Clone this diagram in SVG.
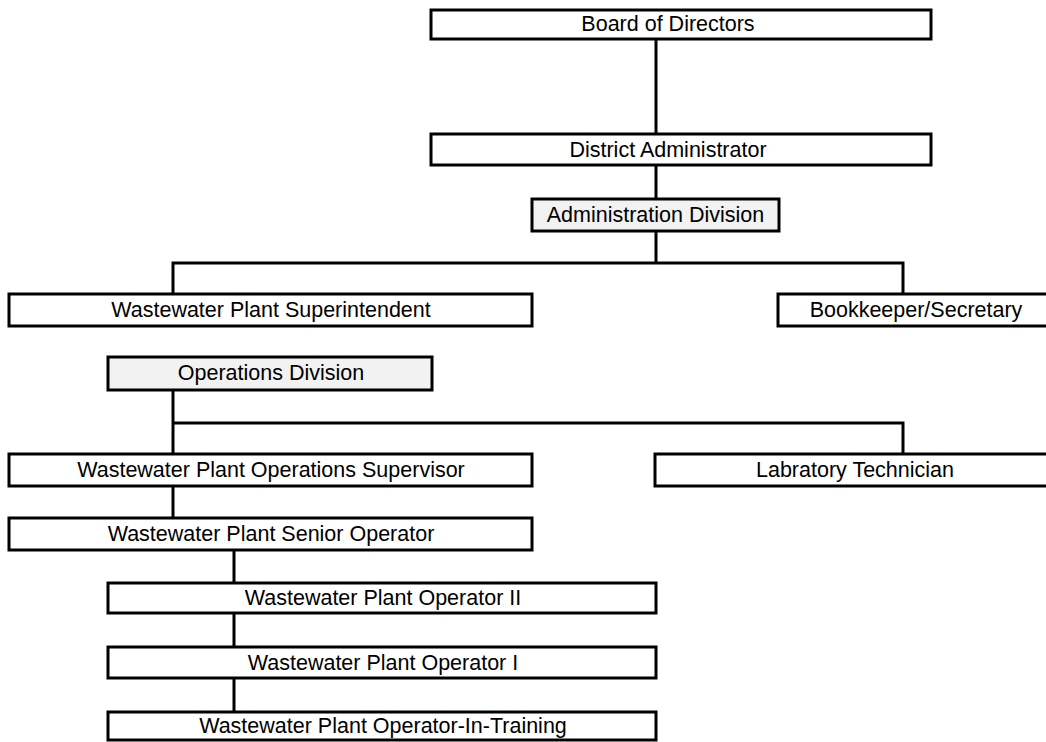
<svg xmlns="http://www.w3.org/2000/svg" width="1046" height="742" viewBox="0 0 1046 742">
<style>
.box{fill:#ffffff;stroke:#000000;stroke-width:3}
.div{fill:#f2f2f2;stroke:#000000;stroke-width:3}
.lbl{font-family:"Liberation Sans",Arial,sans-serif;font-size:21.5px;fill:#000000;text-anchor:middle}
.con{fill:none;stroke:#000000;stroke-width:3}
</style>
<rect width="1046" height="742" fill="#ffffff"/>
<g id="connectors">
<path class="con" d="M656 39V133"/>
<path class="con" d="M656 165V199"/>
<path class="con" d="M656 231V263"/>
<path class="con" d="M173 294V263H903V294"/>
<path class="con" d="M173 390V454"/>
<path class="con" d="M173 423H903V453"/>
<path class="con" d="M173 486V518"/>
<path class="con" d="M234 550V583"/>
<path class="con" d="M234 613V647"/>
<path class="con" d="M234 678V712"/>
</g>
<g id="board"><rect class="box" x="431" y="10" width="500" height="29"/><text class="lbl" x="668" y="31">Board of Directors</text></g>
<g id="district"><rect class="box" x="431" y="134" width="500" height="31"/><text class="lbl" x="668" y="157">District Administrator</text></g>
<g id="admin-division"><rect class="div" x="532" y="199" width="247" height="32"/><text class="lbl" x="655.5" y="222">Administration Division</text></g>
<g id="superintendent"><rect class="box" x="9" y="294" width="523" height="32"/><text class="lbl" x="271" y="317">Wastewater Plant Superintendent</text></g>
<g id="bookkeeper"><rect class="box" x="778" y="294" width="280" height="32"/><text class="lbl" x="916" y="317">Bookkeeper/Secretary</text></g>
<g id="operations-division"><rect class="div" x="108" y="357" width="324" height="33"/><text class="lbl" x="271" y="380">Operations Division</text></g>
<g id="ops-supervisor"><rect class="box" x="9" y="454" width="523" height="32"/><text class="lbl" x="271" y="477">Wastewater Plant Operations Supervisor</text></g>
<g id="lab-tech"><rect class="box" x="655" y="454" width="400" height="32"/><text class="lbl" x="855" y="477">Labratory Technician</text></g>
<g id="senior-operator"><rect class="box" x="9" y="518" width="523" height="32"/><text class="lbl" x="271" y="541">Wastewater Plant Senior Operator</text></g>
<g id="operator-2"><rect class="box" x="108" y="583" width="548" height="30"/><text class="lbl" x="383" y="605">Wastewater Plant Operator II</text></g>
<g id="operator-1"><rect class="box" x="108" y="647" width="548" height="31"/><text class="lbl" x="383" y="670">Wastewater Plant Operator I</text></g>
<g id="operator-in-training"><rect class="box" x="108" y="712" width="548" height="28"/><text class="lbl" x="383" y="733">Wastewater Plant Operator-In-Training</text></g>
</svg>
